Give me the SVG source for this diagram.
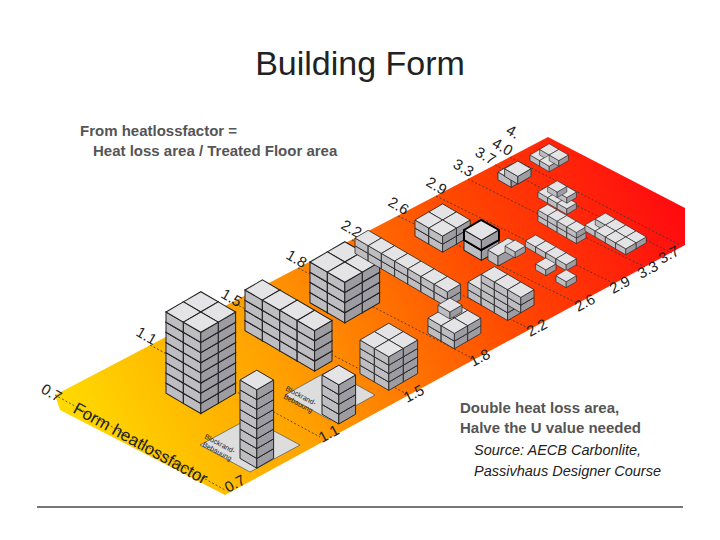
<svg xmlns="http://www.w3.org/2000/svg" xmlns:xlink="http://www.w3.org/1999/xlink" width="720" height="540" viewBox="0 0 720 540">
<style>
.t{font-family:"Liberation Sans",Arial,sans-serif;fill:#222}
.h{font-family:"Liberation Sans",Arial,sans-serif;font-weight:bold;fill:#555;font-size:15px}
.n{font-family:"Liberation Sans",Arial,sans-serif;font-size:15px;fill:#222}
.d{stroke:#333;stroke-width:0.8;stroke-dasharray:2 2;fill:none}
.tp{fill:#e4e4e6;stroke:#222;stroke-width:0.7}
.lf{fill:#bdbdc2;stroke:#222;stroke-width:0.7}
.rt{fill:#9c9ca2;stroke:#222;stroke-width:0.7}
</style>
<defs>
<linearGradient id="g" x1="60" y1="450" x2="650" y2="150" gradientUnits="userSpaceOnUse">
<stop offset="0" stop-color="#ffe000"/><stop offset="0.35" stop-color="#ffa000"/><stop offset="0.7" stop-color="#ff4800"/><stop offset="1" stop-color="#ff0a10"/>
</linearGradient>
<g id="b"><polygon class="lf" points="0,0 12,7 12,14 0,7"/><polygon class="rt" points="12,7 24,0 24,7 12,14"/><polygon class="tp" points="0,0 12,-7 24,0 12,7"/></g>
<g id="c2"><use href="#b" y="7"/><use href="#b"/></g>
<g id="c4"><use href="#b" y="21"/><use href="#b" y="14"/><use href="#b" y="7"/><use href="#b"/></g>
<g id="c8"><use href="#c4" y="28"/><use href="#c4"/></g>
</defs>
<rect width="720" height="540" fill="#fff"/>
<text x="360" y="75" text-anchor="middle" class="t" font-size="34" font-family="Open Sans, sans-serif">Building Form</text>
<text x="80" y="136" class="h">From heatlossfactor =</text>
<text x="93" y="156" class="h">Heat loss area / Treated Floor area</text>
<g id="strip">
<polygon points="55,395 548,137 685,208 685,245 225,495 60,410" fill="url(#g)"/>
<g class="d">
<line x1="55" y1="395" x2="225" y2="490"/><line x1="150" y1="345" x2="320" y2="437"/>
<line x1="232" y1="302" x2="405" y2="393"/><line x1="298" y1="268" x2="470" y2="357"/>
<line x1="352" y1="240" x2="528" y2="328"/><line x1="398" y1="216" x2="575" y2="302"/>
<line x1="436" y1="196" x2="613" y2="283"/><line x1="468" y1="179" x2="645" y2="267"/>
<line x1="495" y1="165" x2="672" y2="253"/><line x1="510" y1="157" x2="680" y2="245"/>
</g>
</g>
<g id="labels" class="n">
<text transform="translate(40,392) rotate(30)">0.7</text>
<text transform="translate(135,335) rotate(30)">1.1</text>
<text transform="translate(220,297) rotate(30)">1.5</text>
<text transform="translate(285,258) rotate(30)">1.8</text>
<text transform="translate(340,228) rotate(30)">2.2</text>
<text transform="translate(387,205) rotate(30)">2.6</text>
<text transform="translate(425,185) rotate(30)">2.9</text>
<text transform="translate(452,167) rotate(30)">3.3</text>
<text transform="translate(474,155) rotate(30)">3.7</text>
<text transform="translate(491,146) rotate(30)">4.0</text>
<text transform="translate(505,133) rotate(30)">4.</text>
<text transform="translate(228,493) rotate(-28)">0.7</text>
<text transform="translate(322,443) rotate(-28)">1.1</text>
<text transform="translate(407,403) rotate(-28)">1.5</text>
<text transform="translate(473,367) rotate(-28)">1.8</text>
<text transform="translate(530,337) rotate(-28)">2.2</text>
<text transform="translate(578,312) rotate(-28)">2.6</text>
<text transform="translate(613,294) rotate(-28)">2.9</text>
<text transform="translate(641,279) rotate(-28)">3.3</text>
<text transform="translate(662,264) rotate(-28)">3.7</text>
<text transform="translate(72,412) rotate(29)" font-size="17">Form heatlossfactor</text>
</g>
<g id="buildings">
<g transform="translate(166,312) scale(1.45)"><use href="#c8" x="12" y="-7"/><use href="#c8"/><use href="#c8" x="24" y="0"/><use href="#c8" x="12" y="7"/></g>
<g transform="translate(310,262) scale(1.45)"><use href="#c4" x="12" y="-7"/><use href="#c4" x="24" y="0"/><use href="#c4"/><use href="#c4" x="12" y="7"/></g>
<g transform="translate(245,290) scale(1.45)"><use href="#c4" x="0" y="0"/><use href="#c4" x="12" y="7"/><use href="#c4" x="24" y="14"/><use href="#c4" x="36" y="21"/></g>
<g transform="translate(355,238) scale(1.1)"><use href="#c2"/><use href="#c2" x="12" y="7"/><use href="#c2" x="24" y="14"/><use href="#c2" x="36" y="21"/><use href="#c2" x="48" y="28"/><use href="#c2" x="60" y="35"/><use href="#c2" x="72" y="42"/></g>
<g transform="translate(415,220) scale(1.15)"><use href="#c2" x="12" y="-7"/><use href="#c2"/><use href="#c2" x="24" y="0"/><use href="#c2" x="12" y="7"/></g>
<g transform="translate(464,230) scale(1.45)"><use href="#c2"/></g>
<polygon points="464,230 481,220 499,230 499,240 481,250 464,240" fill="none" stroke="#000" stroke-width="2"/>
<g transform="translate(488,250)"><polygon class="lf" points="0,0 10,6 10,16 0,10"/><polygon class="rt" points="10,6 32,-6 32,4 10,16"/><polygon class="tp" points="0,0 20,-12 32,-6 10,6"/></g>
<g transform="translate(360,340) scale(1.2)"><use href="#c4" x="12" y="-7"/><use href="#c4"/><use href="#c4" x="24" y="0"/><use href="#c4" x="12" y="7"/></g>
<g transform="translate(428,318) scale(1.1)"><use href="#c2" x="12" y="-7"/><use href="#c2"/><use href="#c2" x="24" y="0"/><use href="#c2" x="12" y="7"/></g>
<g transform="translate(438,305)"><use href="#b"/></g>
<g transform="translate(468,282) scale(1.1)"><use href="#c2"/><use href="#c2" x="12" y="7"/><use href="#c2" x="24" y="14"/><use href="#c2" x="12" y="-7"/><use href="#c2" x="24" y="0"/><use href="#c2" x="36" y="7"/></g>
<g transform="translate(505,246) scale(0.85)"><use href="#b"/><use href="#b" x="24" y="-6"/><use href="#b" x="36" y="1"/><use href="#b" x="48" y="8"/><use href="#b" x="60" y="15"/><use href="#b" x="36" y="21"/><use href="#b" x="60" y="35"/></g>
<g transform="translate(498,172) scale(1.1)"><use href="#b" x="0" y="0"/><use href="#b" x="6" y="-3"/></g>
<g transform="translate(530,155) scale(0.8)"><use href="#b"/><use href="#b" x="12" y="-7"/><use href="#b" x="12" y="7"/><use href="#b" x="24" y="0"/></g>
<g transform="translate(538,192) scale(0.8)"><use href="#b"/><use href="#b" x="12" y="7"/><use href="#b" x="24" y="14"/><use href="#b" x="24" y="0"/><use href="#b" x="12" y="-7"/></g>
<g transform="translate(538,210) scale(0.8)"><use href="#c2"/><use href="#c2" x="12" y="7"/><use href="#c2" x="24" y="14"/><use href="#c2" x="36" y="21"/></g>
<g transform="translate(585,225) scale(0.85)"><use href="#b"/><use href="#b" x="12" y="-7"/><use href="#b" x="24" y="0"/><use href="#b" x="12" y="7"/><use href="#b" x="36" y="7"/><use href="#b" x="24" y="14"/><use href="#b" x="48" y="14"/><use href="#b" x="36" y="21"/></g>
<g id="blockrand1">
<polygon points="200,445 250,418 300,445 250,472" fill="#ddd" stroke="#555" stroke-width="0.7"/>
<g transform="translate(240,380) scale(1.4)"><use href="#c8"/></g>
<text transform="translate(204,438) rotate(28)" class="t" font-size="7">Blockrand-</text>
<text transform="translate(202,446) rotate(28)" class="t" font-size="7">Bebauung</text>
</g>
<g id="blockrand2">
<polygon points="285,395 330,370 375,395 330,420" fill="#ddd" stroke="#555" stroke-width="0.7"/>
<g transform="translate(322,375) scale(1.4)"><use href="#c4"/></g>
<text transform="translate(285,390) rotate(28)" class="t" font-size="7">Blockrand-</text>
<text transform="translate(283,398) rotate(28)" class="t" font-size="7">Bebauung</text>
</g>
</g>
<text x="460" y="413" class="h" font-size="16">Double heat loss area,</text>
<text x="460" y="433" class="h" font-size="16">Halve the U value needed</text>
<text x="474" y="455" class="t" font-size="14.5" font-style="italic">Source: AECB Carbonlite,</text>
<text x="474" y="476" class="t" font-size="14.5" font-style="italic">Passivhaus Designer Course</text>
<line x1="37" y1="507" x2="683" y2="507" stroke="#777" stroke-width="2"/>
</svg>
